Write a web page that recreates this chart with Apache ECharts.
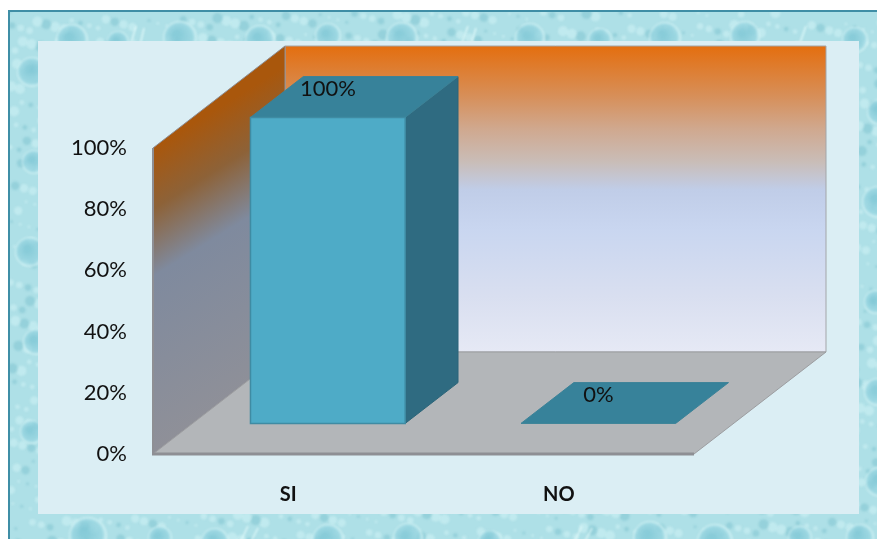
<!DOCTYPE html>
<html>
<head>
<meta charset="utf-8">
<style>html,body{margin:0;padding:0;background:#fff}#chart{width:877px;height:539px}</style>
<script src="https://cdn.jsdelivr.net/npm/echarts@6/dist/echarts.min.js"></script>
</head>
<body>
<div id="chart"></div>
<script>
// Survey answers, as a share of respondents
const categories = ['SI', 'NO'];
const percentValues = [100, 0];
const yTickStep = 20;
const yMax = 100;

// Oblique projection of the 3D box: how far the back plane shifts, in pixels
const DEPTH_X = 132;
const DEPTH_Y = 102;
const BAR_FRONT = 0.3;   // share of the depth in front of each bar
const BAR_DEPTH = 0.4;   // share of the depth taken by each bar
const BAR_WIDTH = 0.572; // share of the category band

const W = 877, H = 539;

// Water-drop wallpaper behind the panel
const bigDrops = [
  [22, 60, 15], [62, 28, 16], [108, 30, 11], [170, 26, 17], [250, 28, 15], [318, 24, 13], [392, 26, 16],
  [520, 26, 15], [590, 28, 12], [655, 26, 16], [735, 24, 15], [845, 28, 13], [870, 100, 13], [868, 190, 16],
  [866, 290, 12], [868, 380, 14], [870, 470, 15], [24, 150, 12], [20, 240, 15], [26, 330, 13], [22, 420, 12],
  [78, 524, 19], [150, 526, 12], [205, 530, 14], [318, 528, 16], [398, 526, 15], [480, 530, 12],
  [640, 526, 17], [705, 530, 18], [790, 526, 12], [850, 526, 14]
];
const streaks = [[126, 14, 118, 42], [134, 16, 128, 42], [458, 14, 448, 42], [466, 16, 458, 42], [796, 14, 786, 42],
  [238, 514, 226, 539], [248, 516, 236, 539], [572, 514, 560, 539], [582, 516, 570, 539]];

function paintWallpaper() {
  const canvas = document.createElement('canvas');
  canvas.width = W; canvas.height = H;
  const ctx = canvas.getContext('2d');
  ctx.fillStyle = '#aee0e7';
  ctx.fillRect(0, 0, W, H);
  ctx.filter = 'blur(1.2px)';
  // fine mottling placed along a low-discrepancy sequence
  for (let i = 0; i < 2600; i++) {
    const x = ((i * 0.61803) % 1) * W;
    const y = ((i * 0.75488) % 1) * H;
    const r = 1.5 + (i % 5) * 0.9;
    ctx.fillStyle = i % 3 === 0 ? 'rgba(120,190,205,0.45)' : 'rgba(215,247,249,0.45)';
    ctx.beginPath(); ctx.arc(x, y, r, 0, 2 * Math.PI); ctx.fill();
  }
  for (const [x, y, r] of bigDrops) {
    const g = ctx.createRadialGradient(x - r * 0.2, y - r * 0.2, r * 0.2, x, y, r);
    g.addColorStop(0, 'rgba(130,200,214,0.85)');
    g.addColorStop(0.75, 'rgba(150,212,224,0.7)');
    g.addColorStop(1, 'rgba(225,250,250,0.85)');
    ctx.fillStyle = g;
    ctx.beginPath(); ctx.arc(x, y, r, 0, 2 * Math.PI); ctx.fill();
  }
  ctx.strokeStyle = 'rgba(225,250,250,0.9)';
  ctx.lineWidth = 1.6;
  for (const [a, b, c, d] of streaks) {
    ctx.beginPath(); ctx.moveTo(a, b); ctx.lineTo(c, d); ctx.stroke();
  }
  return canvas;
}

const chart = echarts.init(document.getElementById('chart'), null, { renderer: 'canvas' });

function poly(points, fill, stroke, lineWidth) {
  return {
    type: 'polygon',
    shape: { points },
    style: { fill, stroke: stroke || fill, lineWidth: lineWidth === undefined ? 1 : lineWidth, lineJoin: 'miter' }
  };
}

// Back wall, side wall and floor of the plot box, laid out from the axis scales
function renderRoom(params, api) {
  const [x0, y0] = api.coord([0, 0]);
  const band = api.size([1, 0])[0];
  const left = x0 - band / 2;
  const right = left + band * categories.length;
  const top = api.coord([0, yMax])[1];
  const bottom = y0;
  const dx = DEPTH_X, dy = DEPTH_Y;

  const backWall = new echarts.graphic.LinearGradient(0, 0, 0, 1, [
    { offset: 0, color: '#e46e0e' },
    { offset: 0.165, color: '#d78f59' },
    { offset: 0.27, color: '#d0a88e' },
    { offset: 0.38, color: '#c9bdb8' },
    { offset: 0.47, color: '#c0cde8' },
    { offset: 0.6, color: '#c9d6f0' },
    { offset: 0.82, color: '#d9dff0' },
    { offset: 1, color: '#e6e9f5' }
  ]);
  const sideWall = {
    type: 'linear', global: true,
    x: left, y: top, x2: left + 137, y2: top + 221,
    colorStops: [
      { offset: 0, color: '#a9570c' },
      { offset: 0.2, color: '#8d6238' },
      { offset: 0.42, color: '#7f8a9e' },
      { offset: 1, color: '#8f9098' }
    ]
  };

  return {
    type: 'group',
    children: [
      poly([[left + dx, top - dy], [right + dx, top - dy], [right + dx, bottom - dy], [left + dx, bottom - dy]], backWall, '#a3a5a8'),
      poly([[left, top], [left + dx, top - dy], [left + dx, bottom - dy], [left, bottom]], sideWall, '#8e8e93'),
      poly([[left, bottom], [right, bottom], [right + dx, bottom - dy], [left + dx, bottom - dy]], '#b3b6b9', '#9c9da0'),
      { type: 'line', shape: { x1: left, y1: top, x2: left, y2: bottom }, style: { stroke: '#8e8f94', lineWidth: 2 } },
      { type: 'line', shape: { x1: left - 1, y1: bottom, x2: right, y2: bottom }, style: { stroke: '#8e8f94', lineWidth: 3 } }
    ]
  };
}

// One oblique 3D column, with its percentage printed over the top face
function renderColumn(params, api) {
  const idx = api.value(0);
  const val = api.value(1);
  const [cx, yTop] = api.coord([idx, val]);
  const yBase = api.coord([idx, 0])[1];
  const band = api.size([1, 0])[0];
  const w = band * BAR_WIDTH;
  const ox = DEPTH_X * BAR_FRONT, oy = DEPTH_Y * BAR_FRONT;
  const ddx = DEPTH_X * BAR_DEPTH, ddy = DEPTH_Y * BAR_DEPTH;
  const l = cx + ox - w / 2, r = cx + ox + w / 2;
  const t = yTop - oy, b = yBase - oy;
  const children = [];
  if (val > 0) {
    children.push(poly([[r, t], [r + ddx, t - ddy], [r + ddx, b - ddy], [r, b]], '#2f6b81', '#2c6579'));
  }
  children.push(poly([[l, t], [r, t], [r + ddx, t - ddy], [l + ddx, t - ddy]], '#37829a', '#3b8298'));
  if (val > 0) {
    children.push(poly([[l, t], [r, t], [r, b], [l, b]], '#4eabc7', '#3f8ba3', 1.5));
  }
  children.push({
    type: 'text',
    x: cx + ox,
    y: t - 28,
    style: {
      text: val + '%', fill: '#111', font: '22px Lato',
      textAlign: 'center', textVerticalAlign: 'middle'
    }
  });
  return { type: 'group', children };
}

chart.setOption({
  animation: false,
  backgroundColor: '#ffffff',
  graphic: [
    { type: 'image', z: -10, silent: true, left: 10, top: 12,
      style: { image: paintWallpaper(), x: -10, y: -12, width: W, height: H } },
    { type: 'rect', z: -9, silent: true, shape: { x: 8, y: 10, width: 2, height: 529 }, style: { fill: '#3f8ea6' } },
    { type: 'rect', z: -9, silent: true, shape: { x: 8, y: 10, width: 869, height: 2 }, style: { fill: '#3f8ea6' } },
    { type: 'rect', z: -8, silent: true, shape: { x: 38, y: 41, width: 821, height: 473 }, style: { fill: '#dbeef4' } }
  ],
  grid: { left: 153, top: 148, width: 541, height: 306, containLabel: false },
  xAxis: {
    type: 'category',
    data: categories,
    axisLine: { show: false },
    axisTick: { show: false },
    axisLabel: { color: '#111', fontFamily: 'Lato', fontWeight: 'bold', fontSize: 20, margin: 31 }
  },
  yAxis: {
    type: 'value',
    min: 0,
    max: yMax,
    interval: yTickStep,
    axisLine: { show: false },
    axisTick: { show: false },
    splitLine: { show: false },
    axisLabel: { color: '#111', fontFamily: 'Lato', fontSize: 22, margin: 26, formatter: '{value}%' }
  },
  series: [
    {
      name: 'room', type: 'custom', clip: false, silent: true, z: 1,
      data: [[0, 0]], encode: { x: 0, y: 1 },
      renderItem: renderRoom
    },
    {
      name: 'Respuestas', type: 'custom', clip: false, z: 2,
      data: categories.map((c, i) => [i, percentValues[i]]),
      encode: { x: 0, y: 1 },
      renderItem: renderColumn
    }
  ]
});
</script>
</body>
</html>
